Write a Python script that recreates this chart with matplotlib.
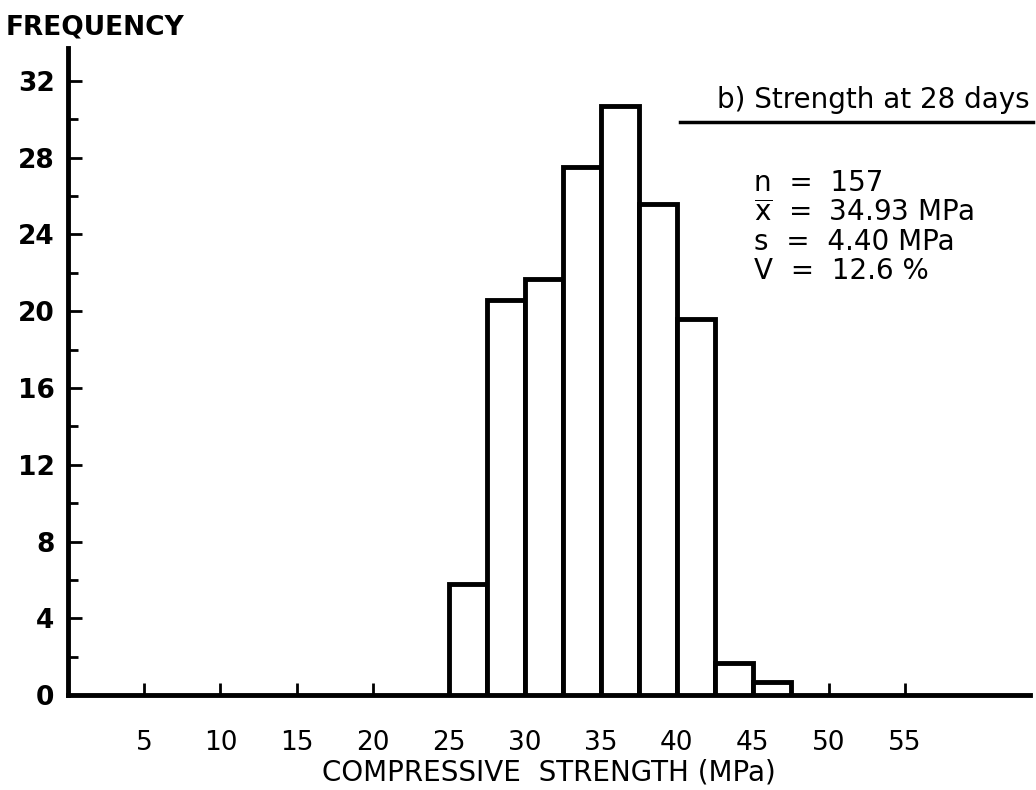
import numpy as np
import matplotlib.pyplot as plt
from matplotlib.ticker import MultipleLocator

# Histogram data (bin width 2.5 MPa)
bin_left = [25, 27.5, 30, 32.5, 35, 37.5, 40, 42.5, 45]
freq = [5.8, 20.6, 21.7, 27.5, 30.7, 25.6, 19.6, 1.7, 0.7]
bin_width = 2.5

x_ticks = [5, 10, 15, 20, 25, 30, 35, 40, 45, 50, 55]
y_ticks = [0, 4, 8, 12, 16, 20, 24, 28, 32]
stats = ["n  =  157", r"$\overline{\mathrm{x}}$  =  34.93 MPa", "s  =  4.40 MPa", "V  =  12.6 %"]

plt.rcParams['font.family'] = ['DejaVu Sans']

fig = plt.figure(figsize=(10.36, 7.9), dpi=100)
ax = fig.add_axes([0.066, 0.12, 0.928, 0.819])

ax.bar(bin_left, freq, width=bin_width, align='edge', facecolor='white',
       edgecolor='black', linewidth=3.5, zorder=3)

ax.set_xlim(0, 63.2)
ax.set_ylim(0, 33.7)

for side in ['top', 'right']:
    ax.spines[side].set_visible(False)
for side in ['left', 'bottom']:
    ax.spines[side].set_linewidth(3.5)

ax.set_xticks(x_ticks)
ax.set_xticklabels([str(v) for v in x_ticks], fontsize=19)
ax.set_yticks(y_ticks)
ax.set_yticklabels([str(v) for v in y_ticks], fontsize=19, fontweight='bold')
ax.yaxis.set_minor_locator(MultipleLocator(2))
ax.tick_params(axis='x', direction='in', length=9, width=2, pad=25)
ax.tick_params(axis='y', which='major', direction='in', length=10, width=2, pad=10)
ax.tick_params(axis='y', which='minor', direction='in', length=7, width=2)

ax.set_xlabel("COMPRESSIVE  STRENGTH (MPa)", fontsize=20, labelpad=2)

fig.text(0.005, 0.965, "FREQUENCY", fontsize=19, fontweight='bold', va='center', ha='left')

fig.text(0.994, 0.873, "b) Strength at 28 days", fontsize=20, ha='right', va='center')
fig.add_artist(plt.Line2D([0.656, 0.997], [0.845, 0.845], color='black', lw=2.5))

for i, line in enumerate(stats):
    fig.text(0.728, 0.768 - i * 0.037, line, fontsize=20, ha='left', va='center')

fig.savefig("out.png", dpi=100)
